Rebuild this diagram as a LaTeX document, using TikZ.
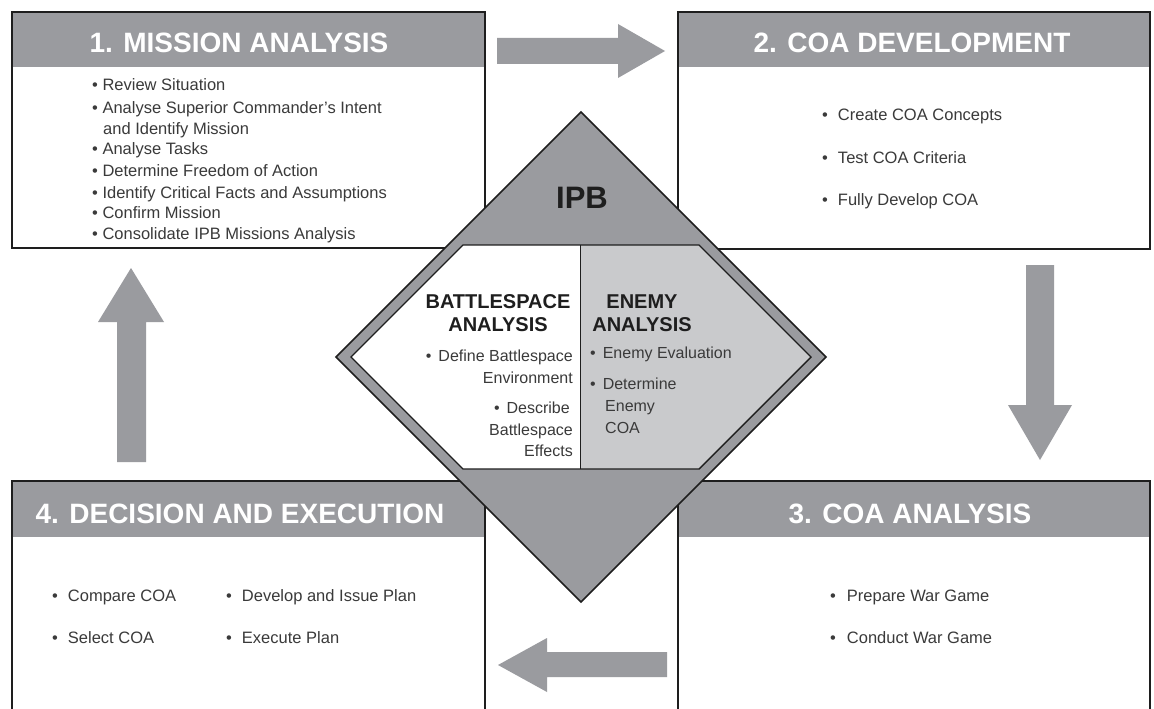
\documentclass[tikz,border=0pt]{standalone}
\usepackage{fontspec}
\setmainfont{Liberation Sans}
\definecolor{hdr}{HTML}{9A9B9F}
\definecolor{lgray}{HTML}{C9CACC}
\definecolor{txt}{HTML}{3A3A3A}
\definecolor{edge}{HTML}{1E1E1E}
\begin{document}
\begin{tikzpicture}[x=1pt,y=-1pt,
  boxline/.style={draw=edge,line width=2pt},
  hdrtext/.style={font=\fontsize{28}{30}\selectfont\bfseries,text=white,anchor=base,inner sep=0pt},
  item/.style={font=\fontsize{16.5}{20}\selectfont,text=txt,anchor=base west,inner sep=0pt},
  ditem/.style={font=\fontsize{16}{20}\selectfont,text=txt,inner sep=0pt},
  dhead/.style={font=\fontsize{20}{22}\selectfont\bfseries,text=edge,anchor=base,inner sep=0pt},
  blockarrow/.style={fill=hdr,draw=none}]
\useasboundingbox (0,0) rectangle (1154,709);
\fill[white] (0,0) rectangle (1154,709);

% Boxes
\fill[hdr] (12,12) rectangle (485,67);
\draw[boxline] (12,12) rectangle (485,248);
\fill[hdr] (678,12) rectangle (1150,67);
\draw[boxline] (678,12) rectangle (1150,249);
\fill[hdr] (678,481) rectangle (1150,537);
\draw[boxline] (678,709) -- (678,481) -- (1150,481) -- (1150,709);
\fill[hdr] (12,481) rectangle (485,537);
\draw[boxline] (12,709) -- (12,481) -- (485,481) -- (485,709);

% Block arrows
\fill[blockarrow] (497,38) -- (618,38) -- (618,24) -- (665,51) -- (618,78) -- (618,64) -- (497,64) -- cycle;
\fill[blockarrow] (1026,265) -- (1054,265) -- (1054,405) -- (1072,405) -- (1040,460) -- (1008,405) -- (1026,405) -- cycle;
\fill[blockarrow] (667,652) -- (547,652) -- (547,638) -- (498,665) -- (547,692) -- (547,677) -- (667,677) -- cycle;
\fill[blockarrow] (117,462) -- (117,322) -- (98,322) -- (131,268) -- (164,322) -- (146,322) -- (146,462) -- cycle;

% Headers
\node[hdrtext] (h1) at (239,53) {1. MISSION ANALYSIS};
\node[hdrtext] (h2) at (912,53) {2. COA DEVELOPMENT};
\node[hdrtext] (h3) at (910,523) {3. COA ANALYSIS};
\node[hdrtext] (h4) at (240,523) {4. DECISION AND EXECUTION};

% Box 1 items
\node[item] (a1) at (92,91) {\textbullet\ Review Situation};
\node[item] (a2) at (92,113) {\textbullet\ Analyse Superior Commander’s Intent};
\node[item] (a2b) at (103,134) {and Identify Mission};
\node[item] (a3) at (92,154) {\textbullet\ Analyse Tasks};
\node[item] (a4) at (92,176) {\textbullet\ Determine Freedom of Action};
\node[item] (a5) at (92,198) {\textbullet\ Identify Critical Facts and Assumptions};
\node[item] (a6) at (92,218) {\textbullet\ Confirm Mission};
\node[item] (a7) at (92,239) {\textbullet\ Consolidate IPB Missions Analysis};

% Box 2 items
\node[item] (b1) at (822,120) {\textbullet\hspace{10pt}Create COA Concepts};
\node[item] (b2) at (822,163) {\textbullet\hspace{10pt}Test COA Criteria};
\node[item] (b3) at (822,205) {\textbullet\hspace{10pt}Fully Develop COA};

% Box 3 items
\node[item] (c1) at (830,601) {\textbullet\hspace{11pt}Prepare War Game};
\node[item] (c2) at (830,643) {\textbullet\hspace{11pt}Conduct War Game};

% Box 4 items
\node[item] (d1) at (52,601) {\textbullet\hspace{10pt}Compare COA};
\node[item] (d2) at (52,643) {\textbullet\hspace{10pt}Select COA};
\node[item] (d3) at (226,601) {\textbullet\hspace{10pt}Develop and Issue Plan};
\node[item] (d4) at (226,643) {\textbullet\hspace{10pt}Execute Plan};

% Diamond
\draw[fill=hdr,draw=edge,line width=1.6pt,line join=miter] (581,112) -- (826,357) -- (581,602) -- (336,357) -- cycle;
\fill[white] (351,357) -- (463,245) -- (580,245) -- (580,469) -- (463,469) -- cycle;
\fill[lgray] (580,245) -- (699,245) -- (811,357) -- (699,469) -- (580,469) -- cycle;
\draw[edge,line width=1.4pt,line join=miter] (351,357) -- (463,245) -- (699,245) -- (811,357) -- (699,469) -- (463,469) -- cycle;
\draw[edge,line width=1pt] (580,245) -- (580,469);

\node[font=\fontsize{31}{33}\selectfont\bfseries,text=edge,anchor=base,inner sep=0pt] (ipb) at (582,208) {IPB};
\node[dhead] (bs1) at (498,308) {BATTLESPACE};
\node[dhead] (bs2) at (498,331) {ANALYSIS};
\node[dhead] (en1) at (642,308) {ENEMY};
\node[dhead] (en2) at (642,331) {ANALYSIS};

\node[ditem,anchor=base east] (l1) at (573,361) {\textbullet\hspace{7pt}Define Battlespace};
\node[ditem,anchor=base east] (l2) at (573,383) {Environment};
\node[ditem,anchor=base east] (l3) at (570,413) {\textbullet\hspace{7pt}Describe};
\node[ditem,anchor=base east] (l4) at (573,435) {Battlespace};
\node[ditem,anchor=base east] (l5) at (573,456) {Effects};

\node[ditem,anchor=base west] (r1) at (590,358) {\textbullet\hspace{7pt}Enemy Evaluation};
\node[ditem,anchor=base west] (r2) at (590,389) {\textbullet\hspace{7pt}Determine};
\node[ditem,anchor=base west] (r3) at (605,411) {Enemy};
\node[ditem,anchor=base west] (r4) at (605,433) {COA};
\end{tikzpicture}
\end{document}
